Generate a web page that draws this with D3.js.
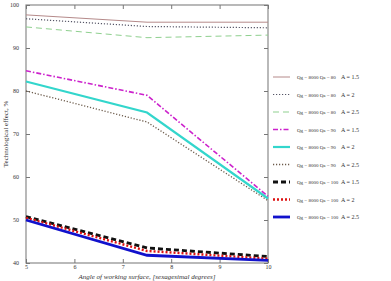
<!DOCTYPE html>
<html>
<head>
<meta charset="utf-8">
<script src="https://cdn.jsdelivr.net/npm/d3@7"></script>
<style>
body{margin:0;background:#fff;}
text{font-family:"Liberation Serif","DejaVu Serif",serif;fill:#333;}
</style>
</head>
<body>
<svg id="chart" width="391" height="281"></svg>
<script>
var svgWidth=391;
var svgHeight=281;

// data
var angles=[5,7.5,10];
var seriesNames=[
  "Qg = 8000 Qa = 80","Qg = 8000 Qa = 80","Qg = 8000 Qa = 80",
  "Qg = 8000 Qa = 90","Qg = 8000 Qa = 90","Qg = 8000 Qa = 90",
  "Qg = 8000 Qa = 100","Qg = 8000 Qa = 100","Qg = 8000 Qa = 100"];
var seriesA=["A = 1.5","A = 2","A = 2.5","A = 1.5","A = 2","A = 2.5","A = 1.5","A = 2","A = 2.5"];
var qa80a15=[97.7,96,96];
var qa80a2=[96.8,95,94.7];
var qa80a25=[94.9,92.4,93];
var qa90a15=[84.7,79,55.5];
var qa90a2=[82.2,75,55];
var qa90a25=[80,72.8,54.5];
var qa100a15=[50.8,43.5,41.5];
var qa100a2=[50.5,42.8,41];
var qa100a25=[50,41.8,40.6];
var seriesValues=[qa80a15,qa80a2,qa80a25,qa90a15,qa90a2,qa90a25,qa100a15,qa100a2,qa100a25];
var xTicks=[5,6,7,8,9,10];
var yTicks=[40,50,60,70,80,90,100];

// styles
var colors=["#b58a8a","#555566","#8fd08f","#cc22cc","#33d6cc","#6b5a4a","#111111","#dd1111","#1111cc"];
var widths=[1,1.2,1,1.6,2.2,1.3,2.8,2.4,2.8];
var dashes=[null,"1.2,1.8","6,4","5,2,1.5,2",null,"1.2,1.8","5,3","2,2",null];

var plotLeft=26,plotRight=268,plotTop=5,plotBottom=263;

var svg=d3.select("#chart");

var xScale=d3.scaleLinear().domain([5,10]).range([plotLeft,plotRight]);
var yScale=d3.scaleLinear().domain([40,100]).range([plotBottom,plotTop]);

// box
svg.append("rect")
  .attr("x",plotLeft).attr("y",plotTop)
  .attr("width",plotRight-plotLeft).attr("height",plotBottom-plotTop)
  .attr("fill","none").attr("stroke","#8a8a8a").attr("stroke-width",1.2);

// axes (ticks inward)
function styleAxis(g){
  g.select(".domain").remove();
  g.selectAll("line").attr("stroke","#777");
  g.selectAll("text").style("font-size","6px").attr("fill","#333");
}
svg.append("g")
  .attr("transform","translate(0,"+plotBottom+")")
  .call(d3.axisBottom(xScale).tickValues(xTicks).tickFormat(d3.format("d")).tickSize(-4).tickPadding(2))
  .call(styleAxis);
svg.append("g")
  .attr("transform","translate("+plotLeft+",0)")
  .call(d3.axisLeft(yScale).tickValues(yTicks).tickFormat(d3.format("d")).tickSize(-4).tickPadding(7))
  .call(styleAxis);
svg.append("g")
  .attr("transform","translate(0,"+plotTop+")")
  .call(d3.axisTop(xScale).tickValues(xTicks).tickSize(-4).tickFormat(""))
  .call(styleAxis);
svg.append("g")
  .attr("transform","translate("+plotRight+",0)")
  .call(d3.axisRight(yScale).tickValues(yTicks).tickSize(-4).tickFormat(""))
  .call(styleAxis);

// lines
var line=d3.line()
  .x(function(d,i){return xScale(angles[i]);})
  .y(function(d){return yScale(d);});

svg.append("g")
  .selectAll("path")
  .data(seriesValues)
  .enter()
  .append("path")
  .attr("d",line)
  .attr("fill","none")
  .attr("stroke",function(d,i){return colors[i];})
  .attr("stroke-width",function(d,i){return widths[i];})
  .attr("stroke-dasharray",function(d,i){return dashes[i];});

// axis titles
svg.append("text")
  .attr("x",(plotLeft+plotRight)/2).attr("y",279)
  .attr("text-anchor","middle")
  .style("font-size","7px").style("font-style","italic")
  .text("Angle of working surface, [sexagesimal degrees]");
svg.append("text")
  .attr("transform","translate(8,"+((plotTop+plotBottom)/2)+") rotate(-90)")
  .attr("text-anchor","middle")
  .style("font-size","7px")
  .text("Technological effect, %");

// legend
var legendY=d3.scaleLinear().domain([0,8]).range([77,217]);
var legend=svg.append("g")
  .selectAll("g")
  .data(seriesNames)
  .enter()
  .append("g")
  .attr("transform",function(d,i){return "translate(0,"+legendY(i)+")";});
legend.append("line")
  .attr("x1",273).attr("x2",290)
  .attr("stroke",function(d,i){return colors[i];})
  .attr("stroke-width",function(d,i){return widths[i];})
  .attr("stroke-dasharray",function(d,i){return dashes[i];});
legend.append("text")
  .attr("x",297).attr("y",2)
  .style("font-size","5px")
  .text(function(d){return d;});
legend.append("text")
  .attr("x",341).attr("y",2)
  .style("font-size","6px")
  .text(function(d,i){return seriesA[i];});
</script>
</body>
</html>
